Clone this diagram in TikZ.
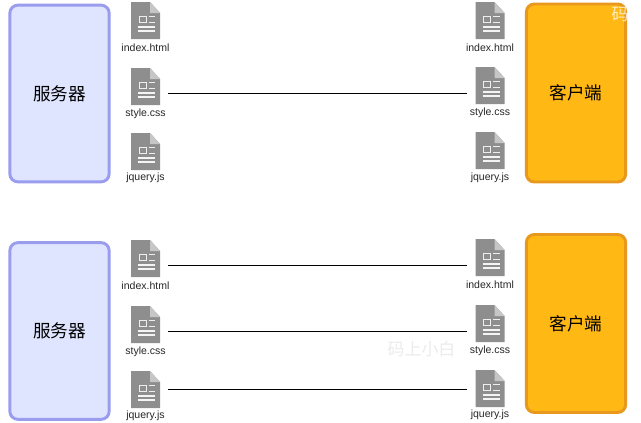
\documentclass[tikz,border=0pt]{standalone}
\usepackage{fontspec}
\setmainfont{Liberation Sans}
\newfontfamily\cjk{Noto Sans CJK SC}
\definecolor{serverfill}{HTML}{E0E5FF}
\definecolor{serverline}{HTML}{9A9CEE}
\definecolor{clientfill}{HTML}{FFB814}
\definecolor{clientline}{HTML}{E8981C}
\definecolor{icongrey}{HTML}{8E8E8E}
\tikzset{
    host/.style={rounded corners=6pt,line width=2.2pt,minimum width=74.5pt,inner sep=0pt,outer sep=0pt,font=\cjk\fontsize{13.2pt}{15pt}\selectfont},
    server/.style={host,draw=serverline,fill=serverfill,minimum height=132.5pt},
    client/.style={host,draw=clientline,fill=clientfill,minimum height=133.5pt},
    fileicon/.pic={
        \node[minimum width=21.75pt,minimum height=27.75pt,inner sep=0pt,outer sep=0pt] (-body) at (0,0) {};
        \begin{scope}[shift={(-14.5,-18.5)}]
            \fill[icongrey] (0,0) -- (19,0) -- (29,11) -- (29,37) -- (0,37) -- cycle;
            \fill[icongrey!50] (19,0) -- (29,11) -- (19,11) -- cycle;
            \draw[white!85!icongrey,line width=0.6pt] (8,14.5) rectangle (15,20);
            \draw[white!85!icongrey,line width=0.6pt] (17.5,14.5) -- (24,14.5) (17.5,20) -- (24,20);
            \draw[white!90!icongrey,line width=0.8pt] (7,25) -- (24,25) (7,29) -- (24,29);
        \end{scope}
    },
    filename/.style={inner sep=0pt,text=black!85,font=\fontsize{7.9pt}{9pt}\selectfont},
    link/.style={line width=0.7pt,black,shorten <=6pt,shorten >=6.75pt},
    mark1/.style={inner sep=0pt,font=\cjk\fontsize{12.7pt}{14pt}\selectfont}
}
\begin{document}
\begin{tikzpicture}[x=0.75pt,y=-0.75pt]
    \useasboundingbox (0,0) rectangle (641,422);

    % Hosts
    \node[server] (servertop) at (59.5,93.5) {服务器};
    \node[client] (clienttop) at (576,93) {客户端};
    \node[server] (serverlow) at (59.5,331) {服务器};
    \node[client] (clientlow) at (576,323.5) {客户端};

    % Files on the server, upper part
    \pic (stopa) at (145.5,20.5) {fileicon};
    \pic (stopb) at (145.5,86.5) {fileicon};
    \pic (stopc) at (145.5,151.5) {fileicon};
    \node[filename] (stopatext) at (145.5,47.5) {index.html};
    \node[filename] (stopbtext) at (145.5,113.5) {style.css};
    \node[filename] (stopctext) at (145.5,177.5) {jquery.js};

    % Files on the client, upper part
    \pic (ctopa) at (490,20.5) {fileicon};
    \pic (ctopb) at (490,85.5) {fileicon};
    \pic (ctopc) at (490,150.5) {fileicon};
    \node[filename] (ctopatext) at (490,47.5) {index.html};
    \node[filename] (ctopbtext) at (490,112.5) {style.css};
    \node[filename] (ctopctext) at (490,177.5) {jquery.js};

    % Files on the server, lower part
    \pic (slowa) at (145.5,258.5) {fileicon};
    \pic (slowb) at (145.5,324.5) {fileicon};
    \pic (slowc) at (145.5,389.5) {fileicon};
    \node[filename] (slowatext) at (145.5,285.5) {index.html};
    \node[filename] (slowbtext) at (145.5,351.5) {style.css};
    \node[filename] (slowctext) at (145.5,415.5) {jquery.js};

    % Files on the client, lower part
    \pic (clowa) at (490,257.5) {fileicon};
    \pic (clowb) at (490,323.5) {fileicon};
    \pic (clowc) at (490,388.5) {fileicon};
    \node[filename] (clowatext) at (490,284.5) {index.html};
    \node[filename] (clowbtext) at (490,350.5) {style.css};
    \node[filename] (clowctext) at (490,414.5) {jquery.js};

    % Links
    \draw[link] ([yshift=-4.875pt]stopb-body.east) -- ([yshift=-5.625pt]ctopb-body.west);
    \draw[link] ([yshift=-4.875pt]slowa-body.east) -- ([yshift=-5.625pt]clowa-body.west);
    \draw[link] ([yshift=-4.875pt]slowb-body.east) -- ([yshift=-5.625pt]clowb-body.west);
    \draw[link] ([yshift=0.375pt]slowc-body.east) -- ([yshift=-0.375pt]clowc-body.west);

    % Watermarks
    \node[mark1,text=white,opacity=0.75] (marktop) at (620,14) {码};
    \node[mark1,text=black!8] (marklow) at (421.5,349) {码上小白};
\end{tikzpicture}
\end{document}
